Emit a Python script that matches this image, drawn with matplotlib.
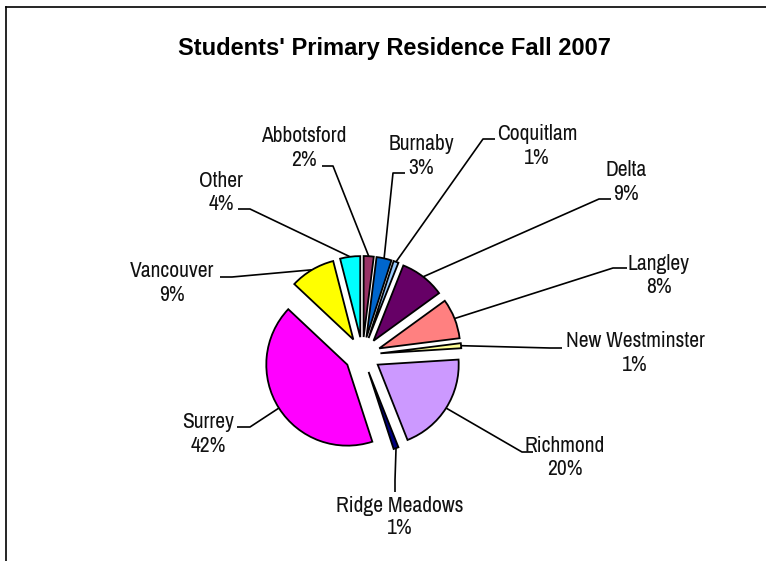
import matplotlib
matplotlib.use("Agg")
import matplotlib.pyplot as plt
from matplotlib.lines import Line2D
import numpy as np

# ---------------- data ----------------
title = "Students' Primary Residence Fall 2007"
names = ["Abbotsford", "Burnaby", "Coquitlam", "Delta", "Langley",
         "New Westminster", "Richmond", "Ridge Meadows", "Surrey",
         "Vancouver", "Other"]
values = [2, 3, 1, 9, 8, 1, 20, 1, 42, 9, 4]
colors = ["#993366", "#0066CC", "#99CCFF", "#660066", "#FF8080",
          "#FFFF99", "#CC99FF", "#000080", "#FF00FF", "#FFFF00", "#00FFFF"]

# ---------------- layout (pixels) ----------------
W, H = 766, 561
CX, CY = 362.5, 355.0      # pie centre
R = 81.0                   # pie radius
EXPLODE = 18.0             # explosion offset

# x_center, name_baseline, pct_baseline, elbow_x, elbow_y, end_x, end_y
label_layout = {
    "Abbotsford":      (304, 142, 166, 333, 166, 322, 166),
    "Burnaby":         (421, 150, 174, 393, 173, 405, 173),
    "Coquitlam":       (537, 140, 164, 483, 139, 495, 139),
    "Delta":           (626, 176, 200, 599, 199, 611, 199),
    "Langley":         (659, 270, 293, 613, 268, 627, 268),
    "New Westminster": (635, 347, 371, 550, 348, 562, 348),
    "Richmond":        (565, 452, 475, 522, 452, 533, 452),
    "Ridge Meadows":   (400, 512, 534, 395, 480, 395, 492),
    "Surrey":          (208, 428, 452, 250, 427, 237, 427),
    "Vancouver":       (172, 277, 301, 232, 277, 220, 277),
    "Other":           (221, 187, 210, 250, 209, 238, 209),
}

LABEL_FONT = ["Archivo Narrow", "Liberation Sans Narrow", "Roboto Condensed",
              "Liberation Sans"]


def to_data(px, py):
    return (px - CX) / R, (CY - py) / R


fig = plt.figure(figsize=(W / 100, H / 100), dpi=100)
ax = fig.add_axes([0, 0, 1, 1])

wedges, _ = ax.pie(values, explode=[EXPLODE / R] * len(values), colors=colors,
                   startangle=90, counterclock=False, radius=1.0,
                   wedgeprops=dict(edgecolor="black", linewidth=1.3))

ax.set_xlim(-CX / R, (W - CX) / R)
ax.set_ylim(-(H - CY) / R, CY / R)
ax.set_aspect("equal")
ax.axis("off")

for w, name, val in zip(wedges, names, values):
    xc, name_y, pct_y, ex, ey, nx, ny = label_layout[name]
    tm = np.deg2rad(0.5 * (w.theta1 + w.theta2))
    cx, cy = w.center
    sx, sy = cx + w.r * np.cos(tm), cy + w.r * np.sin(tm)
    e = to_data(ex, ey)
    n = to_data(nx, ny)
    ax.plot([sx, e[0], n[0]], [sy, e[1], n[1]], color="black", lw=1.2,
            solid_capstyle="butt", zorder=0)
    tx, ty = to_data(xc, name_y)
    ax.text(tx, ty, name, ha="center", va="baseline", fontsize=15.5,
            family=LABEL_FONT, color="#111111")
    tx, ty = to_data(xc, pct_y)
    ax.text(tx, ty, f"{val}%", ha="center", va="baseline", fontsize=15.5,
            family=LABEL_FONT, color="#111111")

fig.text(394 / W, 1 - 55 / H, title, ha="center", va="baseline",
         fontsize=17, fontweight="bold", family=["Liberation Sans", "DejaVu Sans"])

# chart border
fig.add_artist(Line2D([6 / W, 6 / W], [1 - 7 / H, 0], color="black", lw=1.2))
fig.add_artist(Line2D([6 / W, 1.0], [1 - 7 / H, 1 - 7 / H], color="black", lw=1.2))

fig.savefig("out.png", dpi=100)
